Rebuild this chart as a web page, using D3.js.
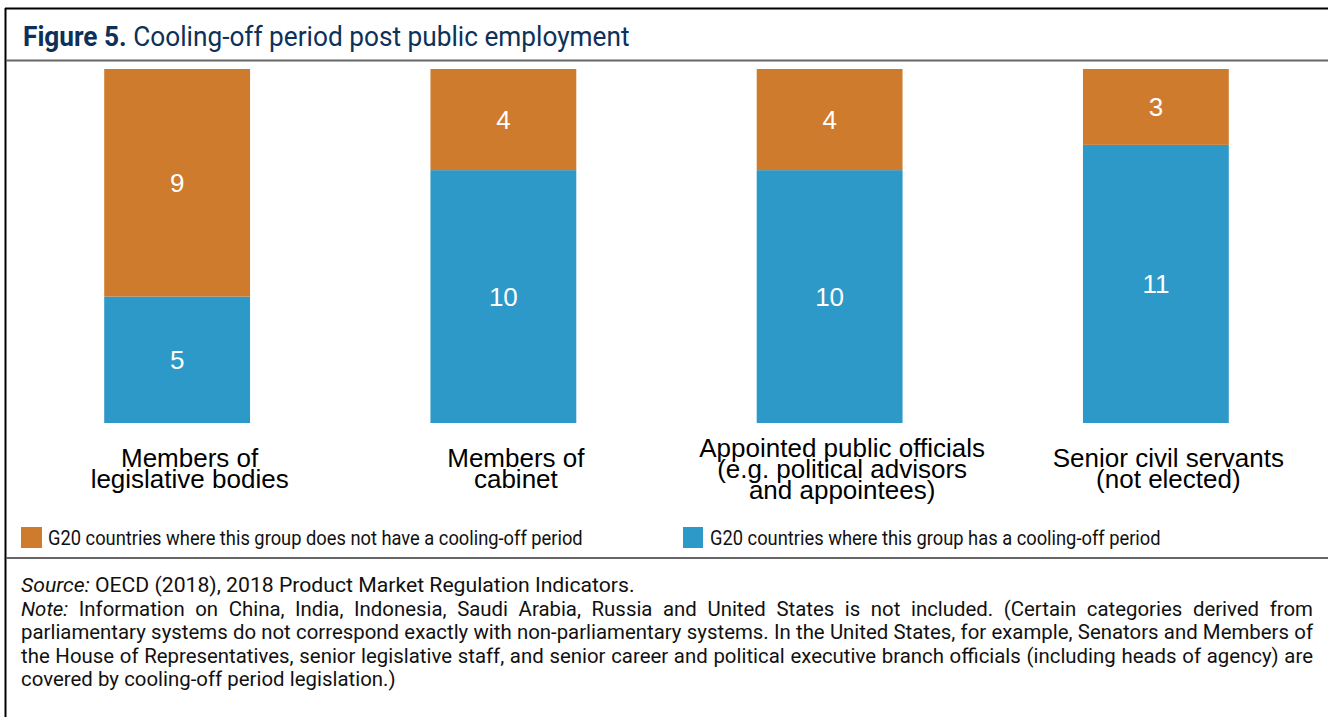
<!DOCTYPE html>
<html>
<head>
<meta charset="utf-8">
<script src="https://cdn.jsdelivr.net/npm/d3@7"></script>
<style>
  body { margin: 0; background: #fff; }
  svg { display: block; }
</style>
</head>
<body>
<div class="container"></div>
<script>
const WIDTH = 1328;
const HEIGHT = 717;

var categories = ["Members of legislative bodies", "Members of cabinet",
    "Appointed public officials (e.g. political advisors and appointees)",
    "Senior civil servants (not elected)"];
var categoryLines = [
    ["Members of", "legislative bodies"],
    ["Members of", "cabinet"],
    ["Appointed public officials", "(e.g. political advisors", "and appointees)"],
    ["Senior civil servants", "(not elected)"]
];
var hasPeriod = [5, 10, 10, 11];
var noPeriod = [9, 4, 4, 3];
var seriesKeys = ["has", "not"];
var seriesNames = {
    has: "G20 countries where this group has a cooling-off period",
    not: "G20 countries where this group does not have a cooling-off period"
};
var colors = { has: "#2c99c8", not: "#ce7b2d" };

var titleBold = "Figure 5.";
var titleText = " Cooling-off period post public employment";
var sourceLabel = "Source:";
var sourceText = " OECD (2018), 2018 Product Market Regulation Indicators.";
var noteLabel = "Note:";
var noteLines = [
    "Information on China, India, Indonesia, Saudi Arabia, Russia and United States is not included. (Certain categories derived from",
    "parliamentary systems do not correspond exactly with non-parliamentary systems. In the United States, for example, Senators and Members of",
    "the House of Representatives, senior legislative staff, and senior career and political executive branch officials (including heads of agency) are",
    "covered by cooling-off period legislation.)"
];

const SMALL_FONT = "Roboto, 'Open Sans', sans-serif";
const SMALL_SIZE = 21;
const LABEL_FONT = "'Liberation Sans', Arial, sans-serif";
const NOTE_WIDTH = 1292;

var translate = function(x, y) {
    return `translate(${x},${y})`;
};

var svg = d3.select('.container').append('svg')
    .attr('width', WIDTH)
    .attr('height', HEIGHT);

// frame
svg.append('line').attr('x1', 5).attr('x2', WIDTH).attr('y1', 8.5).attr('y2', 8.5)
    .attr('stroke', '#000').attr('stroke-width', 2);
svg.append('line').attr('x1', 5.5).attr('x2', 5.5).attr('y1', 8).attr('y2', HEIGHT)
    .attr('stroke', '#000').attr('stroke-width', 2);
svg.append('line').attr('x1', 6).attr('x2', WIDTH).attr('y1', 60.5).attr('y2', 60.5)
    .attr('stroke', '#666').attr('stroke-width', 2);
svg.append('line').attr('x1', 6).attr('x2', WIDTH).attr('y1', 558).attr('y2', 558)
    .attr('stroke', '#666').attr('stroke-width', 2);

// squeeze a text horizontally so it spans the given width
var fitWidth = function(text, x, y, width) {
    var w = text.node().getComputedTextLength();
    text.attr('transform', translate(x, y) + ` scale(${width / w},1)`);
    return width / w;
};

// title
var title = svg.append('text')
    .attr('font-family', SMALL_FONT)
    .attr('font-size', 27.5)
    .attr('fill', '#0d3158');
title.append('tspan').attr('font-weight', 'bold').text(titleBold);
title.append('tspan').text(titleText);
fitWidth(title, 23, 45.5, 607);

// bars
let xScale = d3.scaleBand()
    .domain(categories)
    .range([14, 1319])
    .paddingInner(0.553)
    .paddingOuter(0.2765);

let yScale = d3.scaleLinear()
    .domain([0, 14])
    .range([423, 69]);

var rows = categories.map((c, i) => ({ cat: c, has: hasPeriod[i], not: noPeriod[i] }));
var stacked = d3.stack().keys(seriesKeys)(rows);

var layers = svg.append('g').selectAll('g').data(stacked).enter()
    .append('g')
    .attr('fill', (s) => colors[s.key]);

layers.selectAll('rect').data((s) => s).enter()
    .append('rect')
    .attr('x', (d) => xScale(d.data.cat))
    .attr('width', xScale.bandwidth())
    .attr('y', (d) => yScale(d[1]))
    .attr('height', (d) => yScale(d[0]) - yScale(d[1]));

layers.selectAll('text').data((s) => s.map((d) => ({ d: d, key: s.key }))).enter()
    .append('text')
    .attr('x', (e) => xScale(e.d.data.cat) + xScale.bandwidth() / 2)
    .attr('y', (e) => (yScale(e.d[0]) + yScale(e.d[1])) / 2)
    .attr('dy', '0.36em')
    .attr('text-anchor', 'middle')
    .attr('font-family', LABEL_FONT)
    .attr('font-size', 26)
    .attr('fill', '#fff')
    .text((e) => e.d.data[e.key]);

// category labels (sit a little right of the bar centre, as in the source)
var catLabels = svg.append('g').selectAll('text').data(categories).enter()
    .append('text')
    .attr('text-anchor', 'middle')
    .attr('font-family', LABEL_FONT)
    .attr('font-size', 26)
    .attr('fill', '#000')
    .attr('transform', (c) => translate(xScale(c) + xScale.bandwidth() / 2 + 12.5, 0));

catLabels.each(function(c, i) {
    var lines = categoryLines[i];
    var first = 477.5 - (lines.length - 1) * 21 / 2;
    d3.select(this).selectAll('tspan').data(lines).enter()
        .append('tspan')
        .attr('x', 0)
        .attr('y', (l, j) => first + j * 21)
        .text((l) => l);
});

// legend
var legendItems = [
    { key: "not", x: 21, w: 21, tx: 48, tw: 535 },
    { key: "has", x: 683, w: 20, tx: 710, tw: 451 }
];
legendItems.forEach(function(item) {
    svg.append('rect')
        .attr('x', item.x).attr('y', 527)
        .attr('width', item.w).attr('height', 21)
        .attr('fill', colors[item.key]);
    var t = svg.append('text')
        .attr('font-family', SMALL_FONT)
        .attr('font-size', SMALL_SIZE)
        .attr('fill', '#111')
        .text(seriesNames[item.key]);
    fitWidth(t, item.tx, 545, item.tw);
});

// source
var src = svg.append('text')
    .attr('font-family', SMALL_FONT)
    .attr('font-size', SMALL_SIZE)
    .attr('fill', '#111');
src.append('tspan').attr('font-style', 'italic').text(sourceLabel);
src.append('tspan').text(sourceText);
fitWidth(src, 21, 591.5, 614);

// note, justified between 21 and 1313
var noteGroup = svg.append('g');
var minGap = 5.2;
var noteRows = noteLines.map(function(line, i) {
    var words = line.split(' ');
    if (i === 0) words.unshift(noteLabel);
    var g = noteGroup.append('g');
    var items = words.map(function(w, k) {
        var t = g.append('text')
            .attr('font-family', SMALL_FONT)
            .attr('font-size', SMALL_SIZE)
            .attr('fill', '#111')
            .attr('font-style', (i === 0 && k === 0) ? 'italic' : 'normal')
            .text(w);
        return { node: t, w: t.node().getComputedTextLength() };
    });
    return { g: g, items: items, total: d3.sum(items, (d) => d.w) };
});

// one squeeze for the whole note, so that the fullest line still has normal word gaps
var squeeze = d3.min(noteRows.slice(0, 3), (r) => (NOTE_WIDTH - (r.items.length - 1) * minGap) / r.total);

noteRows.forEach(function(r, i) {
    r.g.attr('transform', translate(21, 615.5 + i * 23.6) + ` scale(${squeeze},1)`);
    var gap = (i < noteRows.length - 1)
        ? (NOTE_WIDTH / squeeze - r.total) / (r.items.length - 1)
        : minGap / squeeze;
    var pos = 0;
    r.items.forEach(function(d) {
        d.node.attr('x', pos);
        pos += d.w + gap;
    });
});
</script>
</body>
</html>
